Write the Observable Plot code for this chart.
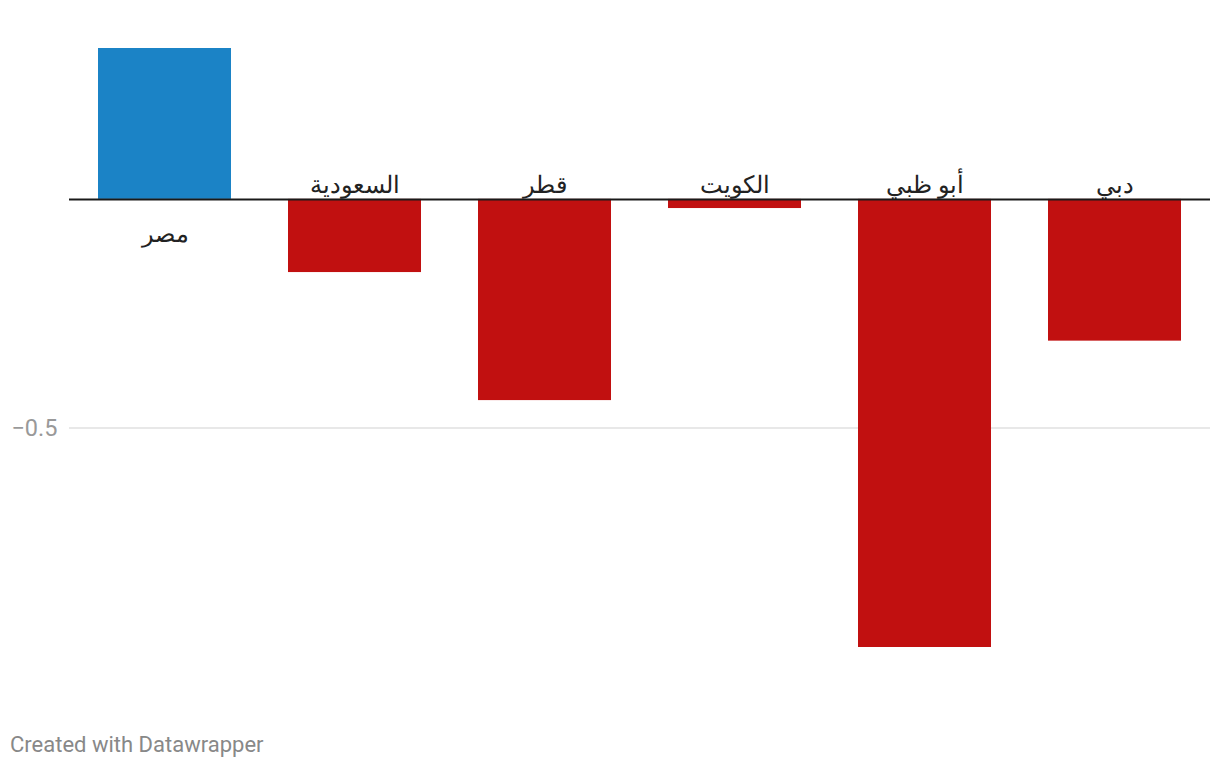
<!DOCTYPE html>
<html>
<head>
<meta charset="utf-8">
<script src="https://cdn.jsdelivr.net/npm/d3@7"></script>
<script src="https://cdn.jsdelivr.net/npm/@observablehq/plot@0.6"></script>
<style>
  body { margin: 0; background: #fff; font-family: Roboto, sans-serif; }
  #caption { font-family: Roboto, sans-serif; font-size: 22px; color: #888; padding-left: 10px; margin-top: 32px; line-height: 26px; }
</style>
</head>
<body>
<div id="chart"></div>
<div id="caption">Created with Datawrapper</div>
<script>
const categories = ["مصر", "السعودية", "قطر", "الكويت", "أبو ظبي", "دبي"];
const values = [0.33, -0.16, -0.44, -0.02, -0.98, -0.31];
const yTicks = [-0.5];
const yTickLabels = ["−0.5"];

const data = categories.map((name, i) => ({name, value: values[i]}));
const pos = data.filter(d => d.value >= 0);
const neg = data.filter(d => d.value < 0);

const chart = Plot.plot({
  width: 1220,
  height: 700,
  marginLeft: 69,
  marginRight: 10,
  marginTop: 48,
  marginBottom: 53,
  style: { fontFamily: "Roboto, sans-serif", background: "#fff" },
  x: { domain: categories, paddingInner: 0.3, paddingOuter: 0.15, axis: null, label: null },
  y: { domain: [-0.98, 0.33], axis: null, label: null },
  marks: [
    Plot.gridY(yTicks, { stroke: "#e0e0e0", strokeOpacity: 1, strokeWidth: 1.5 }),
    Plot.axisY(yTicks, { tickSize: 0, tickPadding: 12, label: null, tickFormat: (d, i) => yTickLabels[i], fontSize: 23.5, fill: "#999", textAnchor: "end" }),
    Plot.barY(data, { x: "name", y: "value", fill: d => d.value >= 0 ? "#1b83c6" : "#c11010" }),
    Plot.ruleY([0], { stroke: "#1a1a1a", strokeWidth: 2 }),
    Plot.text(pos, { x: "name", y: 0, text: "name", dy: 35, fontSize: 23.5, fill: "#222", lineAnchor: "middle" }),
    Plot.text(neg, { x: "name", y: 0, text: "name", dy: -14, fontSize: 23.5, fill: "#222", lineAnchor: "middle" })
  ]
});
document.getElementById("chart").appendChild(chart);
</script>
</body>
</html>
